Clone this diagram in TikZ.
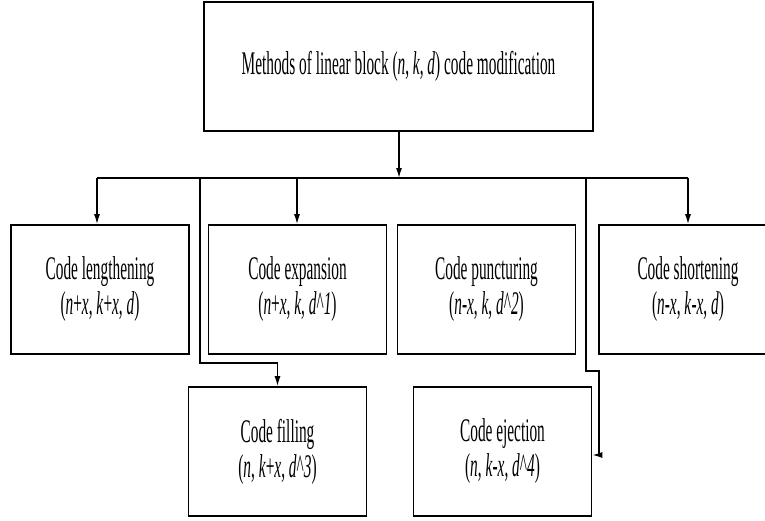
\documentclass[tikz,border=0pt]{standalone}
\usepackage{fontspec}
\setmainfont[FakeStretch=0.465]{Liberation Serif}
\usetikzlibrary{arrows.meta}

\begin{document}
\begin{tikzpicture}[x=1pt,y=-1pt,
  box/.style={rectangle,draw,line width=1.6pt,minimum width=178pt,minimum height=129pt,
    align=center,inner sep=0pt,font=\fontsize{33}{35}\selectfont},
  link/.style={line width=1.4pt},
  tip/.style={link,-{Latex[length=10pt,width=6pt]}}]
\path[use as bounding box,clip] (0,0) rectangle (765,520);
% top box
\node [box,minimum width=389pt] (methods) at (398.5,66.5)
  {Methods of linear block (\textit{n}, \textit{k}, \textit{d}) code modification};
% first row
\node [box] (lengthen) at (100,289.5)
  {Code lengthening\\(\textit{n}+\textit{x}, \textit{k}+\textit{x}, \textit{d})};
\node [box] (expand) at (297.5,289.5)
  {Code expansion\\(\textit{n}+\textit{x}, \textit{k}, \textit{d}\textasciicircum\textit{1})};
\node [box] (puncture) at (486.5,289.5)
  {Code puncturing\\(\textit{n}-\textit{x}, \textit{k}, \textit{d}\textasciicircum\textit{2})};
\node [box] (shorten) at (688,289.5)
  {Code shortening\\(\textit{n}-\textit{x}, \textit{k}-\textit{x}, \textit{d})};
% second row
\node [box] (fill) at (277.5,451.5)
  {Code filling\\(\textit{n}, \textit{k}+\textit{x}, \textit{d}\textasciicircum\textit{3})};
\node [box] (eject) at (502.5,451.5)
  {Code ejection\\(\textit{n}, \textit{k}-\textit{x}, \textit{d}\textasciicircum\textit{4})};
% bus
\coordinate (busL) at (97,178);
\coordinate (busR) at (688,178);
\coordinate (busM) at (399,178);
\coordinate (downF) at (200,178);
\coordinate (downE) at (586,178);
\draw [tip] (methods.south -| busM) -- (busM);
\draw [link] (busL) -- (busR);
\draw [tip] (busL) -- (busL |- lengthen.north);
\draw [tip] (297,178) -- (297,178 |- expand.north);
\draw [tip] (busR) -- (busR |- shorten.north);
\draw [tip] (downF) -- (200,363) -| (fill.north);
\draw [tip] (downE) -- (586,371) -- (599,371) -- (599,455) -- (eject.east |- 0,455);
\end{tikzpicture}
\end{document}
